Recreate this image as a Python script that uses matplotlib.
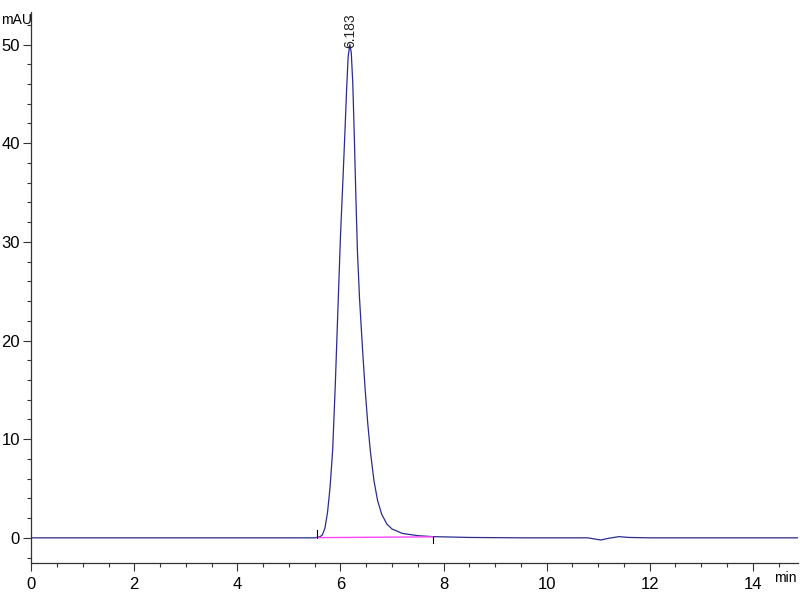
import matplotlib
matplotlib.use("Agg")
import matplotlib.pyplot as plt
from matplotlib.ticker import MultipleLocator

plt.rcParams["font.family"] = ["Liberation Sans Narrow", "Liberation Sans", "DejaVu Sans"]

# chromatogram trace (min, mAU)
time_min = [0.0, 1.0, 2.0, 3.0, 4.0, 5.0, 5.50, 5.60, 5.65, 5.70, 5.75,
            5.80, 5.85, 5.90, 5.95, 6.00, 6.05, 6.09, 6.12, 6.15, 6.183,
            6.21, 6.24, 6.27, 6.30, 6.33, 6.37, 6.43, 6.48, 6.53, 6.58,
            6.65, 6.72, 6.80, 6.90, 7.00, 7.20, 7.50, 7.80, 8.50, 9.50,
            10.80, 11.05, 11.20, 11.40, 11.60, 12.00, 13.00, 14.00, 14.90]
signal_mau = [0.0, 0.0, 0.0, 0.0, 0.0, 0.0, 0.0, 0.1, 0.3, 1.0, 2.6,
              5.2, 9.0, 15.5, 23.0, 30.5, 36.5, 41.5, 45.5, 48.8, 50.0,
              49.2, 46.0, 40.5, 34.5, 29.0, 24.3, 19.0, 15.0, 11.6, 8.8,
              5.8, 3.8, 2.4, 1.4, 0.9, 0.45, 0.22, 0.12, 0.04, 0.0,
              0.0, -0.22, -0.05, 0.12, 0.04, 0.0, 0.0, 0.0, 0.0]

peak_rt = 6.183
peak_label = "6.183"
baseline_start = 5.55
baseline_end = 7.79
baseline_level = [0.02, 0.1]

fig = plt.figure(figsize=(8, 6), dpi=100)
ax = fig.add_axes([0.039, 0.062, 0.958, 0.918])

ax.plot(time_min, signal_mau, color="#2b2b8f", lw=0.9)
ax.plot([baseline_start, baseline_end], baseline_level, color="#ff44ff", lw=1.0)

# integration marks
ax.plot([baseline_start, baseline_start], [0.0, 0.8], color="black", lw=0.8)
ax.plot([baseline_end, baseline_end], [0.1, -0.5], color="black", lw=0.8)

ax.text(peak_rt, 49.7, peak_label, rotation=90, ha="center", va="bottom",
        fontsize=10, color="#222222")

ax.set_xlim(0, 14.87)
ax.set_ylim(-2.53, 53.3)

ax.xaxis.set_major_locator(MultipleLocator(2))
ax.xaxis.set_minor_locator(MultipleLocator(0.5))
ax.yaxis.set_major_locator(MultipleLocator(10))
ax.yaxis.set_minor_locator(MultipleLocator(2))

ax.spines["top"].set_visible(False)
ax.spines["right"].set_visible(False)
for s in ("left", "bottom"):
    ax.spines[s].set_linewidth(0.9)
    ax.spines[s].set_color("#333333")

ax.tick_params(axis="both", which="major", length=6, width=0.8,
               labelsize=12, colors="#333333", labelcolor="black")
ax.tick_params(axis="both", which="minor", length=3, width=0.8,
               colors="#333333")
ax.tick_params(axis="y", pad=2)
ax.tick_params(axis="x", pad=4)

fig.text(0.021, 0.967, "mAU", ha="center", va="center", fontsize=10)
fig.text(0.982, 0.037, "min", ha="center", va="center", fontsize=10)

fig.savefig("out.png", dpi=100, facecolor="white")
